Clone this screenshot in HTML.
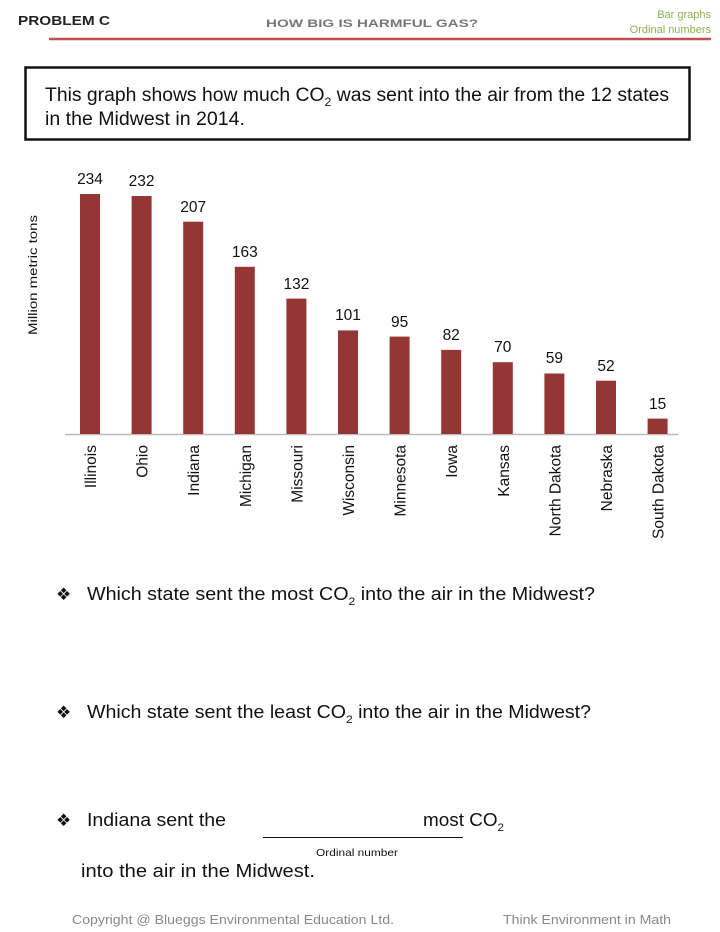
<!DOCTYPE html>
<html><head><style>
html,body{margin:0;padding:0;background:#fff;}
svg{display:block;font-family:"Liberation Sans",sans-serif;}
</style></head><body>
<svg width="720" height="932" viewBox="0 0 720 932" xmlns="http://www.w3.org/2000/svg">
<text x="18" y="25" font-size="12.5" font-weight="bold" fill="#222" textLength="92" lengthAdjust="spacingAndGlyphs">PROBLEM C</text>
<text x="266" y="27" font-size="11" font-weight="bold" fill="#777" textLength="212" lengthAdjust="spacingAndGlyphs">HOW BIG IS HARMFUL GAS?</text>
<text x="711" y="18" font-size="11" fill="#8db04e" text-anchor="end">Bar graphs</text>
<text x="711" y="33" font-size="11" fill="#8db04e" text-anchor="end">Ordinal numbers</text>
<line x1="49" y1="39" x2="711" y2="39" stroke="#c0504d" stroke-width="2.5"/>
<rect x="25.5" y="67.5" width="664" height="72" fill="none" stroke="#111" stroke-width="2.5"/>
<text x="45" y="101" font-size="19" fill="#111" textLength="624" lengthAdjust="spacingAndGlyphs">This graph shows how much CO<tspan font-size="12" dy="5">2</tspan><tspan dy="-5"> was sent into the air from the 12 states</tspan></text>
<text x="45" y="125" font-size="19" fill="#111" textLength="200" lengthAdjust="spacingAndGlyphs">in the Midwest in 2014.</text>
<text transform="translate(37,275) rotate(-90)" font-size="11.5" fill="#111" text-anchor="middle" textLength="120" lengthAdjust="spacingAndGlyphs">Million metric tons</text>
<line x1="65" y1="434.5" x2="678" y2="434.5" stroke="#bbb" stroke-width="1.5"/>
<g fill="#943634">
<rect x="80" y="194" width="20" height="240"/>
<rect x="131.6" y="196" width="20" height="238"/>
<rect x="183.2" y="221.7" width="20" height="212.3"/>
<rect x="234.8" y="266.8" width="20" height="167.2"/>
<rect x="286.4" y="298.6" width="20" height="135.4"/>
<rect x="338" y="330.4" width="20" height="103.6"/>
<rect x="389.6" y="336.6" width="20" height="97.4"/>
<rect x="441.2" y="349.9" width="20" height="84.1"/>
<rect x="492.8" y="362.2" width="20" height="71.8"/>
<rect x="544.4" y="373.5" width="20" height="60.5"/>
<rect x="596" y="380.7" width="20" height="53.3"/>
<rect x="647.6" y="418.6" width="20" height="15.4"/>
</g>
<g font-size="15.5" fill="#111" text-anchor="middle">
<text x="90" y="184">234</text>
<text x="141.6" y="186">232</text>
<text x="193.2" y="212">207</text>
<text x="244.8" y="257">163</text>
<text x="296.4" y="289">132</text>
<text x="348" y="320">101</text>
<text x="399.6" y="327">95</text>
<text x="451.2" y="340">82</text>
<text x="502.8" y="352">70</text>
<text x="554.4" y="363">59</text>
<text x="606" y="371">52</text>
<text x="657.6" y="409">15</text>
</g>
<g font-size="15.5" fill="#111" text-anchor="end">
<text transform="translate(96,445) rotate(-90)">Illinois</text>
<text transform="translate(147.6,445) rotate(-90)">Ohio</text>
<text transform="translate(199.2,445) rotate(-90)">Indiana</text>
<text transform="translate(250.8,445) rotate(-90)">Michigan</text>
<text transform="translate(302.4,445) rotate(-90)">Missouri</text>
<text transform="translate(354,445) rotate(-90)">Wisconsin</text>
<text transform="translate(405.6,445) rotate(-90)">Minnesota</text>
<text transform="translate(457.2,445) rotate(-90)">Iowa</text>
<text transform="translate(508.8,445) rotate(-90)">Kansas</text>
<text transform="translate(560.4,445) rotate(-90)">North Dakota</text>
<text transform="translate(612,445) rotate(-90)">Nebraska</text>
<text transform="translate(663.6,445) rotate(-90)">South Dakota</text>
</g>
<g font-size="18" fill="#111">
<text x="56" y="600" font-size="17">❖</text>
<text x="87" y="600" textLength="508" lengthAdjust="spacingAndGlyphs">Which state sent the most CO<tspan font-size="11" dy="5">2</tspan><tspan dy="-5"> into the air in the Midwest?</tspan></text>
<text x="56" y="718" font-size="17">❖</text>
<text x="87" y="718" textLength="504" lengthAdjust="spacingAndGlyphs">Which state sent the least CO<tspan font-size="11" dy="5">2</tspan><tspan dy="-5"> into the air in the Midwest?</tspan></text>
<text x="56" y="826" font-size="17">❖</text>
<text x="87" y="826" textLength="139" lengthAdjust="spacingAndGlyphs">Indiana sent the</text>
<text x="423" y="826" textLength="81" lengthAdjust="spacingAndGlyphs">most CO<tspan font-size="11" dy="5">2</tspan></text>
<text x="81" y="877" textLength="234" lengthAdjust="spacingAndGlyphs">into the air in the Midwest.</text>
</g>
<line x1="263" y1="837.5" x2="463" y2="837.5" stroke="#111" stroke-width="1"/>
<text x="316" y="856" font-size="10.5" fill="#111" textLength="82" lengthAdjust="spacingAndGlyphs">Ordinal number</text>
<text x="72" y="924" font-size="13" fill="#888" textLength="322" lengthAdjust="spacingAndGlyphs">Copyright @ Blueggs Environmental Education Ltd.</text>
<text x="503" y="924" font-size="13" fill="#888" textLength="168" lengthAdjust="spacingAndGlyphs">Think Environment in Math</text>
</svg>
</body></html>
